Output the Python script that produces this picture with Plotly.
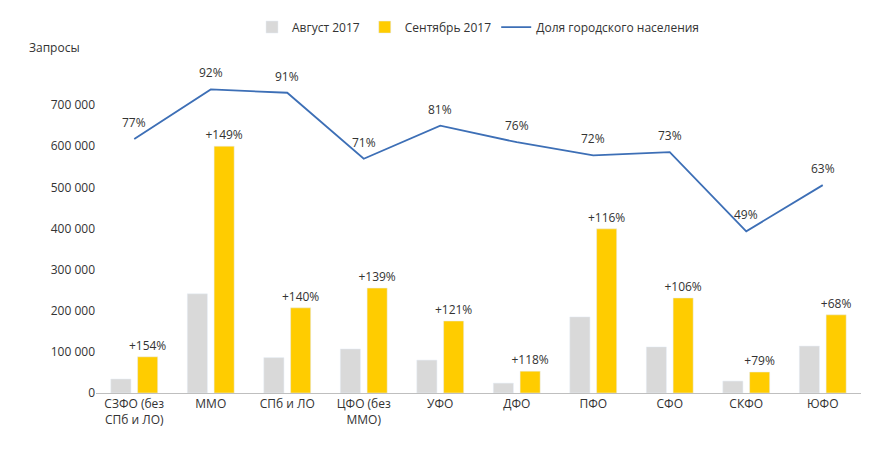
import plotly.graph_objects as go

regions = ["СЗФО (без<br>СПб и ЛО)", "ММО", "СПб и ЛО", "ЦФО (без<br>ММО)", "УФО", "ДФО",
           "ПФО", "СФО", "СКФО", "ЮФО"]
aug_2017 = [34000, 241000, 86000, 107000, 80000, 24000, 185000, 112000, 29000, 114000]
sep_2017 = [88000, 600000, 207000, 255000, 175000, 53000, 399000, 231000, 51000, 190000]
growth = ["+154%", "+149%", "+140%", "+139%", "+121%", "+118%", "+116%", "+106%", "+79%", "+68%"]
urban_share = [77, 92, 91, 71, 81, 76, 72, 73, 49, 63]
y_ticks = [0, 100000, 200000, 300000, 400000, 500000, 600000, 700000]

fig = go.Figure()
fig.add_trace(go.Bar(x=regions, y=aug_2017, name="Август 2017", marker_color="#d9d9d9"))
fig.add_trace(go.Bar(x=regions, y=sep_2017, name="Сентябрь 2017", marker_color="#ffcc00",
                     text=growth, textposition="outside", cliponaxis=False,
                     constraintext="none", textfont=dict(size=12, color="#333")))
fig.add_trace(go.Scatter(x=regions, y=urban_share, name="Доля городского населения",
                         mode="lines", yaxis="y2", line=dict(color="#3d6fb6", width=1.8)))

annotations = [dict(text="Запросы", xref="paper", yref="paper", x=-0.09, y=1.03,
                    xanchor="left", yanchor="bottom", showarrow=False, font=dict(size=12))]
for r, v in zip(regions, urban_share):
    annotations.append(dict(x=r, y=v, xref="x", yref="y2", text=f"{v}%", showarrow=False,
                            yanchor="bottom", yshift=6, font=dict(size=12, color="#333")))

fig.update_layout(
    width=873, height=457,
    margin=dict(l=88, r=20, t=60, b=72),
    plot_bgcolor="white", paper_bgcolor="white",
    font=dict(family="Open Sans", size=12, color="#333"),
    barmode="group", bargap=0.3, bargroupgap=0.25,
    legend=dict(orientation="h", x=0.5, xanchor="center", y=0.99, yanchor="top",
                yref="container", font=dict(size=12)),
    xaxis=dict(showgrid=False, showline=True, linecolor="#bfbfbf", ticks=""),
    yaxis=dict(range=[0, 790000], tickvals=y_ticks,
               ticktext=[f"{v:,}".replace(",", " ") for v in y_ticks],
               showgrid=False, zeroline=False, ticks=""),
    yaxis2=dict(range=[0, 98.5], overlaying="y", side="right", visible=False),
    annotations=annotations,
)

fig.write_html("out.html")
